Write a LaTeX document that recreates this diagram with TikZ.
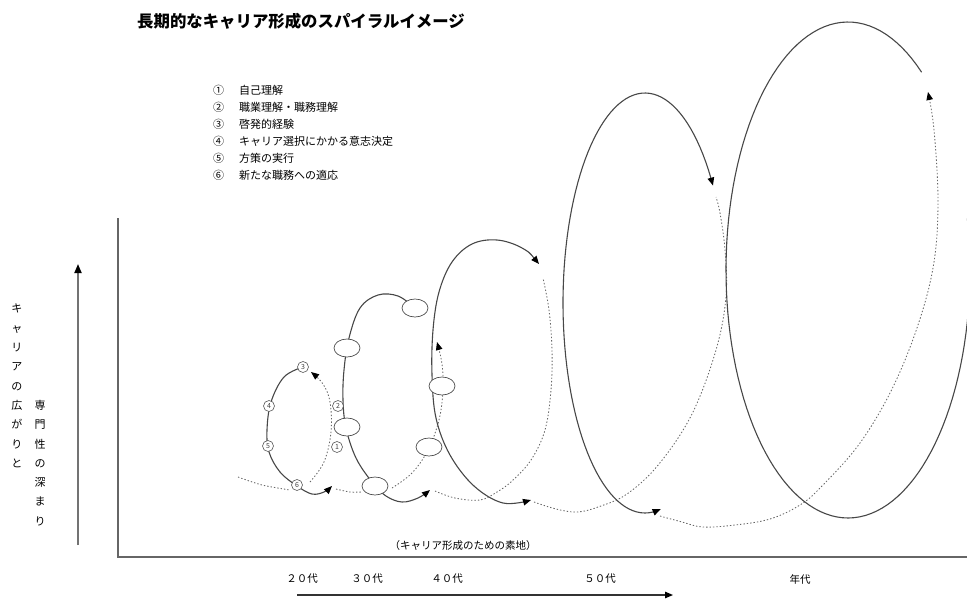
\documentclass[tikz,border=0pt]{standalone}
\usepackage{fontspec}
\setmainfont{Noto Sans CJK JP}
\usetikzlibrary{arrows.meta,shapes.geometric}
\begin{document}
\begin{tikzpicture}[x=1pt,y=-1pt,
  solidl/.style={draw=black!72, line width=1.1pt, line cap=round},
  dotl/.style={draw=black!60, line width=0.85pt, dash pattern=on 1.4pt off 2pt},
  tipe/.style={-{Triangle[length=8pt,width=6.5pt,color=black]}},
  tipb/.style={{Triangle[length=8pt,width=6.5pt,color=black]}-{Triangle[length=8pt,width=6.5pt,color=black]}},
  numc/.style={circle, draw=black!65, line width=0.6pt, fill=white, inner sep=0pt, minimum size=11pt, font=\fontsize{7}{7}\selectfont, text=black!75},
  oval/.style={ellipse, draw=black!70, line width=0.7pt, fill=white, inner sep=0pt, minimum width=26pt, minimum height=18pt},
  legn/.style={anchor=west, font=\fontsize{11}{13}\selectfont, text=black, inner sep=0pt},
  agel/.style={font=\fontsize{10.5}{12}\selectfont, text=black, inner sep=0pt},
  vtxt/.style={align=center, font=\fontsize{11}{19.3}\selectfont, text=black, inner sep=0pt, anchor=north}
]
\useasboundingbox (0,0) rectangle (967,598);
\clip (0,0) rectangle (967,598);

% title
\node[anchor=west, inner sep=0pt, font=\fontsize{16.4}{18}\selectfont\bfseries] (title) at (137,21) {長期的なキャリア形成のスパイラルイメージ};

% legend
\node[legn] (n1) at (213,90) {①}; \node[legn] (l1) at (239,90) {自己理解};
\node[legn] (n2) at (213,107) {②}; \node[legn] (l2) at (239,107) {職業理解・職務理解};
\node[legn] (n3) at (213,124) {③}; \node[legn] (l3) at (239,124) {啓発的経験};
\node[legn] (n4) at (213,141) {④}; \node[legn] (l4) at (239,141) {キャリア選択にかかる意志決定};
\node[legn] (n5) at (213,158) {⑤}; \node[legn] (l5) at (239,158) {方策の実行};
\node[legn] (n6) at (213,175) {⑥}; \node[legn] (l6) at (239,175) {新たな職務への適応};

% axes
\coordinate (ytop) at (118,218);
\coordinate (origin) at (118,557);
\coordinate (xend) at (967,557);
\draw[draw=black!60, line width=1.6pt] (ytop) -- (origin) -- (xend);

% left vertical arrow and text
\coordinate (va1) at (78,545);
\coordinate (va2) at (78,264);
\draw[draw=black!55, line width=1.8pt, -{Triangle[length=9pt,width=7pt,color=black]}] (va1) -- (va2);
\node[vtxt] (vt1) at (17,304) {キ\\ャ\\リ\\ア\\の\\広\\が\\り\\と};
\node[vtxt] (vt2) at (40,400) {専\\門\\性\\の\\深\\ま\\り};

% base label
\node[font=\fontsize{10.5}{12}\selectfont, text=black, inner sep=0pt] (base) at (463,546) {（キャリア形成のための素地）};

% age labels
\node[agel] (a20) at (302,579) {２０代};
\node[agel] (a30) at (367,579) {３０代};
\node[agel] (a40) at (447,579) {４０代};
\node[agel] (a50) at (600,579) {５０代};
\node[agel] (a00) at (800,579) {年代};
\coordinate (ba1) at (297,595);
\coordinate (ba2) at (673,595);
\draw[draw=black!80, line width=1.2pt, tipe] (ba1) -- (ba2);

% ---------- loop 1 (20s)
\draw[dotl] plot[smooth] coordinates {(238,477) (262,485) (290,490)};
\draw[solidl, tipe] plot[smooth, tension=0.6] coordinates {(303,367) (284,377) (271,402) (267,430) (269,452) (280,472) (297,486) (312,494) (324,492) (332,486)};
\draw[dotl, tipe] plot[smooth, tension=0.6] coordinates {(310,482) (324,462) (331,432) (330,402) (323,384) (311,372)};
\draw[dotl] plot[smooth] coordinates {(336,489) (350,492) (362,492)};

% ---------- loop 3 (40s)
\draw[solidl, tipb] plot[smooth, tension=0.6] coordinates {(539,264) (522,248) (497,240) (472,244) (452,262) (439,292) (433,330) (432,375) (436,418) (450,455) (474,486) (503,503) (531,500)};
\draw[dotl] plot[smooth, tension=0.6] coordinates {(435,491) (455,498) (480,500) (497,492) (512,481) (531,460) (545,430) (551,390) (552,350) (549,310) (543,278)};

% ---------- loop 2 (30s)
\draw[solidl, tipe] plot[smooth, tension=0.6] coordinates {(415,308) (398,296) (378,295) (360,308) (349,338) (344,370) (343,400) (346,428) (356,458) (372,482) (386,496) (402,502) (418,498) (430,490)};
\draw[dotl, tipe] plot[smooth, tension=0.6] coordinates {(392,488) (412,473) (428,450) (439,420) (443,390) (442,364) (437,342)};

% ---------- loop 4 (50s)
\draw[dotl] plot[smooth, tension=0.6] coordinates {(534,502) (556,509) (577,512) (598,507) (627,494) (659,464) (692,414) (716,350) (726,297) (725,250) (720,213) (716,197)};
\draw[solidl, tipb] plot[domain=34:281, samples=90] ({645+82*cos(\x)}, {303-210*sin(\x)});

% ---------- loop 5
\draw[dotl, tipe] plot[smooth, tension=0.6] coordinates {(660,516) (682,522) (703,527) (735,525) (770,519) (800,505) (822,486) (860,443) (893,387) (919,322) (934,262) (938,200) (934,130) (928,92)};
\draw[solidl] plot[domain=53:372, samples=120] ({848+122*cos(\x)}, {270-248*sin(\x)});

% ---------- numbered circles, loop 1
\node[numc] (c3) at (303,367) {3};
\node[numc] (c4) at (269,406) {4};
\node[numc] (c5) at (268,446) {5};
\node[numc] (c6) at (297,485) {6};
\node[numc] (c2) at (338,406) {2};
\node[numc] (c1) at (337,447) {1};

% ---------- ovals, loop 2
\node[oval] (oA) at (415,308) {};
\node[oval] (oB) at (347,348) {};
\node[oval] (oC) at (442,386) {};
\node[oval] (oD) at (347,427) {};
\node[oval] (oE) at (429,447) {};
\node[oval] (oF) at (375,486) {};
\end{tikzpicture}
\end{document}
